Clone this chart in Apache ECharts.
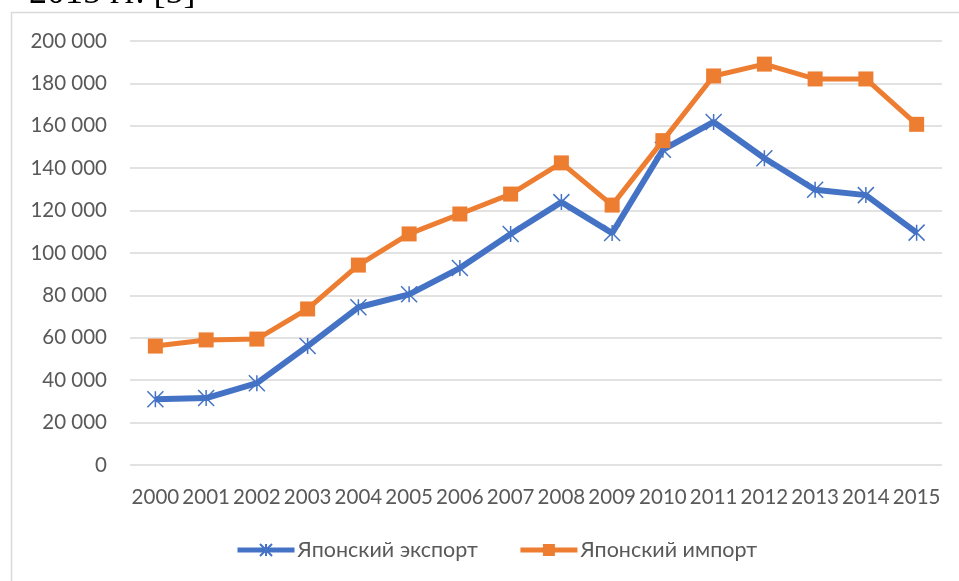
<!DOCTYPE html>
<html>
<head>
<meta charset="utf-8">
<title>Японский экспорт и импорт</title>
<script src="https://cdn.jsdelivr.net/npm/echarts@6/dist/echarts.min.js"></script>
<style>
  html, body { margin: 0; padding: 0; background: #fff; }
  #chart { width: 959px; height: 581px; }
</style>
</head>
<body>
<div id="chart"></div>
<script>
const years = ['2000', '2001', '2002', '2003', '2004', '2005', '2006', '2007',
  '2008', '2009', '2010', '2011', '2012', '2013', '2014', '2015']
// values
const exportJp = [31000, 31600, 38600, 56100, 74400, 80500, 92900, 109000,
  124000, 109400, 148700, 161800, 144700, 129800, 127300, 109600]
const importJp = [56100, 59000, 59400, 73600, 94300, 109000, 118400, 127800,
  142500, 122600, 153000, 183500, 189100, 182100, 182100, 160700]
const yTicks = { min: 0, max: 200000, step: 20000 }

const textColor = '#595959'
const font = 'Lato'
const blue = '#4472C4'
const orange = '#ED7D31'

// asterisk-like marker (X with a vertical bar), stroked
const starSymbol = 'path://M0,0L10,10M10,0L0,10M5,0L5,10'

const chart = echarts.init(document.getElementById('chart'))
chart.setOption({
  animation: false,
  backgroundColor: '#fff',
  textStyle: { fontFamily: font },
  graphic: [
    {
      // chart area frame, only top and left edges are visible in the crop
      type: 'rect',
      shape: { x: 11.5, y: 12.5, width: 1200, height: 1200 },
      style: { fill: 'none', stroke: '#D9D9D9', lineWidth: 1.5 },
      silent: true
    },
    {
      // cut-off caption above the chart
      type: 'text',
      left: 29,
      top: -24,
      style: {
        text: '2015 гг. [5]',
        fontFamily: 'Liberation Serif',
        fontSize: 36,
        fill: '#000'
      },
      silent: true
    }
  ],
  grid: {
    left: 130,
    right: 17,
    top: 41,
    bottom: 116,
    containLabel: false
  },
  legend: {
    bottom: 20,
    left: 235,
    padding: 0,
    itemWidth: 57,
    itemHeight: 15,
    itemGap: 40,
    lineStyle: { width: 5 },
    textStyle: { color: textColor, fontSize: 21.5, fontFamily: font, padding: [0, 0, 0, -2] },
    data: ['Японский экспорт', 'Японский импорт']
  },
  xAxis: {
    type: 'category',
    data: years,
    boundaryGap: true,
    axisLine: { show: false },
    axisTick: { show: false },
    axisLabel: {
      color: textColor,
      fontSize: 20.5,
      fontFamily: font,
      margin: 22,
      interval: 0
    }
  },
  yAxis: {
    type: 'value',
    min: yTicks.min,
    max: yTicks.max,
    interval: yTicks.step,
    axisLine: { show: false },
    axisTick: { show: false },
    splitLine: { lineStyle: { color: '#D9D9D9', width: 1.5 } },
    axisLabel: {
      color: textColor,
      fontSize: 20.5,
      fontFamily: font,
      margin: 23,
      formatter: v => String(v).replace(/\B(?=(\d{3})+(?!\d))/g, ' ')
    }
  },
  series: [
    {
      name: 'Японский экспорт',
      type: 'line',
      data: exportJp,
      symbol: starSymbol,
      symbolSize: 16,
      lineStyle: { color: blue, width: 6 },
      itemStyle: { color: blue, borderColor: blue, borderWidth: 1.5 },
      z: 2
    },
    {
      name: 'Японский импорт',
      type: 'line',
      data: importJp,
      symbol: 'rect',
      symbolSize: 15,
      lineStyle: { color: orange, width: 5 },
      itemStyle: { color: orange, borderWidth: 0 },
      z: 3
    }
  ]
})
</script>
</body>
</html>
